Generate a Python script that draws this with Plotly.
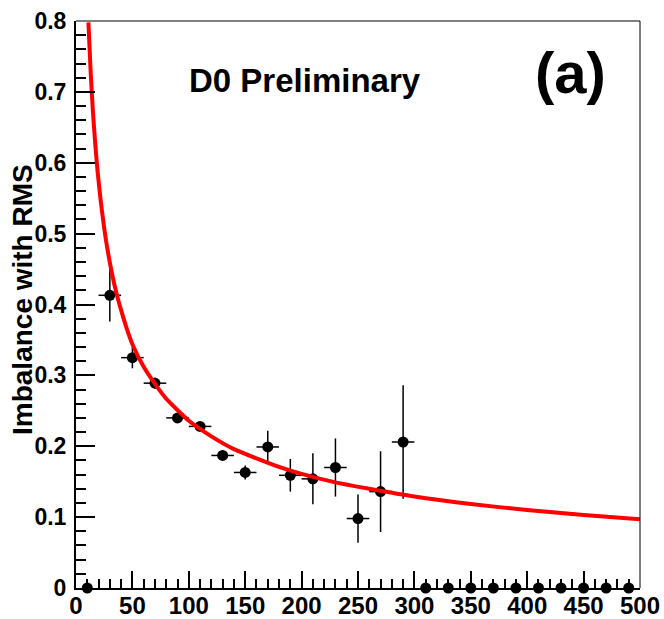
import plotly.graph_objects as go

# Data points (bin centers, values, errors)
x_pts = [10, 30, 50, 70, 90, 110, 130, 150, 170, 190, 210, 230, 250, 270, 290,
         310, 330, 350, 370, 390, 410, 430, 450, 470, 490]
y_pts = [0.0, 0.413, 0.325, 0.289, 0.240, 0.228, 0.187, 0.163, 0.199, 0.159, 0.154,
         0.170, 0.098, 0.136, 0.206, 0, 0, 0, 0, 0, 0, 0, 0, 0, 0]
y_err = [0.0, 0.037, 0.015, 0.008, 0.006, 0.006, 0.007, 0.010, 0.023, 0.023, 0.036,
         0.041, 0.034, 0.057, 0.080, 0, 0, 0, 0, 0, 0, 0, 0, 0, 0]
x_half_width = 10

# Fit curve
fit_x = [11, 13, 15, 17, 19, 22, 25, 28, 32, 36, 40, 45, 50, 60, 70, 80, 90, 100,
         120, 140, 160, 180, 200, 230, 260, 300, 350, 400, 450, 500]
fit_y = [0.798, 0.728, 0.672, 0.628, 0.590, 0.545, 0.508, 0.477, 0.443, 0.415,
         0.392, 0.366, 0.344, 0.312, 0.288, 0.267, 0.251, 0.236, 0.214, 0.196,
         0.183, 0.171, 0.161, 0.149, 0.140, 0.129, 0.1185, 0.110, 0.103, 0.097]

x_ticks = [0, 50, 100, 150, 200, 250, 300, 350, 400, 450, 500]
y_ticks = [0, 0.1, 0.2, 0.3, 0.4, 0.5, 0.6, 0.7, 0.8]
y_tick_text = ["0", "0.1", "0.2", "0.3", "0.4", "0.5", "0.6", "0.7", "0.8"]

FONT = "Liberation Sans, Arial, sans-serif"

filled = [i for i, v in enumerate(y_pts) if v != 0]
empty = [i for i, v in enumerate(y_pts) if v == 0]

fig = go.Figure()
fig.add_trace(go.Scatter(
    x=[x_pts[i] for i in filled], y=[y_pts[i] for i in filled],
    mode="markers",
    marker=dict(color="black", size=11),
    error_y=dict(type="data", array=[y_err[i] for i in filled], color="black",
                 thickness=1.5, width=0),
    error_x=dict(type="constant", value=x_half_width, color="black",
                 thickness=1.5, width=0),
    cliponaxis=False, showlegend=False))
fig.add_trace(go.Scatter(
    x=fit_x, y=fit_y, mode="lines",
    line=dict(color="#ff0000", width=4, shape="spline", smoothing=0.6),
    showlegend=False))
fig.add_trace(go.Scatter(
    x=[x_pts[i] for i in empty], y=[y_pts[i] for i in empty],
    mode="markers", marker=dict(color="black", size=11),
    cliponaxis=False, showlegend=False))

fig.update_layout(
    width=664, height=619,
    margin=dict(l=76, r=24, t=21, b=31),
    paper_bgcolor="white", plot_bgcolor="white",
    font=dict(family=FONT, color="black"),
    xaxis=dict(range=[0, 500], tickvals=x_ticks, ticks="inside", ticklen=17,
               tickwidth=1.5, tickcolor="black", showline=True, linewidth=2,
               linecolor="black", showgrid=False, zeroline=False,
               automargin=False, ticklabelstandoff=-5,
               tickfont=dict(family=FONT, size=24, weight="bold"),
               minor=dict(dtick=10, ticks="inside", ticklen=9, tickwidth=1.5,
                          tickcolor="black", showgrid=False)),
    yaxis=dict(range=[0, 0.8], tickvals=y_ticks, ticktext=y_tick_text,
               ticks="inside", ticklen=19, tickwidth=1.5, tickcolor="black",
               showline=True, linewidth=2, linecolor="black", showgrid=False,
               zeroline=False, ticklabelstandoff=3, automargin=False,
               tickfont=dict(family=FONT, size=23, weight="bold"),
               minor=dict(dtick=0.02, ticks="inside", ticklen=10, tickwidth=1.5,
                          tickcolor="black", showgrid=False)),
)

# thin frame on top and right
fig.add_shape(type="line", xref="paper", yref="paper", x0=0, x1=1, y0=1, y1=1,
              line=dict(color="black", width=1))
fig.add_shape(type="line", xref="paper", yref="paper", x0=1, x1=1, y0=0, y1=1,
              line=dict(color="black", width=1))

fig.add_annotation(text="D0 Preliminary", xref="paper", yref="paper",
                   x=(305 - 76) / 564, y=(588 - 80) / 567, xanchor="center",
                   yanchor="middle", showarrow=False,
                   font=dict(family=FONT, size=33, weight="bold", color="black"))
fig.add_annotation(text="(a)", xref="paper", yref="paper",
                   x=(570 - 76) / 564, y=(588 - 72) / 567, xanchor="center",
                   yanchor="middle", showarrow=False,
                   font=dict(family=FONT, size=58, weight="bold", color="black"))
fig.add_annotation(text="Imbalance with RMS", xref="paper", yref="paper",
                   x=(22 - 76) / 564, y=(588 - 300) / 567, xanchor="center",
                   yanchor="middle", showarrow=False, textangle=-90,
                   font=dict(family=FONT, size=28, weight="bold", color="black"))

fig.write_html("out.html")
